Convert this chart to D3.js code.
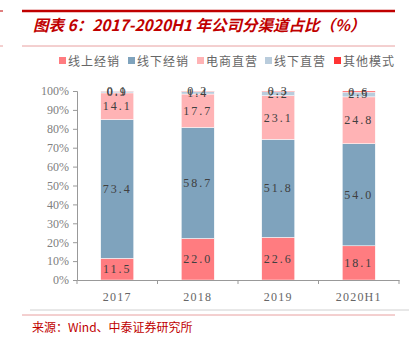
<!DOCTYPE html>
<html><head><meta charset="utf-8">
<script src="https://cdn.jsdelivr.net/npm/d3@7"></script>
<style>body{margin:0;background:#fff}svg{display:block}</style>
</head><body>
<script>
const categories = ["2017","2018","2019","2020H1"];
const seriesNames = ["线上经销","线下经销","电商直营","线下直营","其他模式"];
const s_online = [11.5,22.0,22.6,18.1];
const s_offline = [73.4,58.7,51.8,54.0];
const s_ecom = [14.1,17.7,23.1,24.8];
const s_store = [0.9,1.4,2.2,2.5];
const s_other = [0.1,0.2,0.3,0.6];
const yTicks = [0,10,20,30,40,50,60,70,80,90,100];
const colors = ["#FF7C80","#7FA3BD","#FFB3B5","#B9CCDC","#FF3333"];
const seriesVals = [s_online,s_offline,s_ecom,s_store,s_other];

const W=409,H=341;
const svg=d3.select("body").append("svg").attr("width",W).attr("height",H);
const red="#C00000";
svg.append("line").attr("x1",22).attr("x2",395).attr("y1",11).attr("y2",11).attr("stroke",red).attr("stroke-width",2.5);
svg.append("line").attr("x1",0).attr("x2",3).attr("y1",11).attr("y2",11).attr("stroke",red).attr("stroke-width",1);
svg.append("line").attr("x1",22).attr("x2",395).attr("y1",46).attr("y2",46).attr("stroke","#E8A0A0").attr("stroke-width",1);
svg.append("line").attr("x1",0).attr("x2",3).attr("y1",46).attr("y2",46).attr("stroke","#E8A0A0").attr("stroke-width",1);
svg.append("text").attr("x",33).attr("y",31).attr("fill",red)
  .attr("font-family","'Noto Sans CJK SC', sans-serif").attr("font-weight","bold").attr("font-style","italic").attr("font-size",15.5)
  .text("图表 6：2017-2020H1 年公司分渠道占比（%）");

const x=d3.scaleBand().domain(categories).range([77,399]).paddingInner(0.59).paddingOuter(0.295);
const y=d3.scaleLinear().domain([0,100]).range([280,91]);

const lg=svg.append("g");
const lx=[59,128,197,265,334];
seriesNames.forEach((n,i)=>{
  lg.append("rect").attr("x",lx[i]).attr("y",57).attr("width",7).attr("height",7).attr("fill",colors[i]);
  lg.append("text").attr("x",lx[i]+9).attr("y",65.5).attr("fill","#666").attr("font-size",12)
    .attr("font-family","'Noto Sans CJK SC', sans-serif").attr("letter-spacing","1px").text(n);
});

const data=categories.map((c,i)=>{const o={cat:c};seriesNames.forEach((n,j)=>o[n]=seriesVals[j][i]);return o;});
const stack=d3.stack().keys(seriesNames)(data);
const g=svg.append("g");
stack.forEach((layer,j)=>{
  g.selectAll(null).data(layer).enter().append("rect")
   .attr("x",d=>x(d.data.cat)).attr("width",x.bandwidth())
   .attr("y",d=>y(d[1])).attr("height",d=>y(d[0])-y(d[1]))
   .attr("fill",colors[j]).attr("stroke","#fff").attr("stroke-width",0.5);
});
stack.forEach((layer,j)=>{
  g.selectAll(null).data(layer).enter().append("text")
   .attr("x",d=>x(d.data.cat)+x.bandwidth()/2).attr("y",d=>(y(d[0])+y(d[1]))/2+4)
   .attr("text-anchor","middle").attr("fill","#404040").attr("font-size",12)
   .attr("font-family","'Liberation Serif', serif").attr("letter-spacing","2px")
   .text(d=>(d[1]-d[0]).toFixed(1));
});

const ya=svg.append("g").attr("transform","translate(77,0)")
  .call(d3.axisLeft(y).tickValues(yTicks).tickSize(4).tickFormat(d=>d+"%"));
ya.select(".domain").attr("stroke","#999");
ya.selectAll(".tick line").attr("stroke","#999");
ya.selectAll("text").attr("fill","#808080").attr("font-size",12).attr("font-family","'Liberation Serif', serif").attr("x",-8);
const xa=svg.append("g").attr("transform","translate(0,280)")
  .call(d3.axisBottom(x).tickSize(0).tickSizeOuter(0).tickPadding(12));
xa.select(".domain").attr("stroke","#999");
xa.selectAll("text").attr("fill","#666").attr("font-size",12).attr("font-family","'Liberation Serif', serif").attr("letter-spacing","1.2px");
const bounds=[77].concat(categories.map(c=>x(c)+x.bandwidth()+x.step()*x.paddingInner()/2));
bounds[bounds.length-1]=399;
svg.selectAll(null).data(bounds).enter().append("line")
  .attr("x1",d=>d).attr("x2",d=>d).attr("y1",280).attr("y2",284).attr("stroke","#999");

svg.append("line").attr("x1",30).attr("x2",409).attr("y1",310).attr("y2",310).attr("stroke","#D0D0D0");
svg.append("line").attr("x1",22).attr("x2",395).attr("y1",315).attr("y2",315).attr("stroke","#E8A0A0");
svg.append("text").attr("x",32).attr("y",332).attr("fill",red).attr("font-size",12)
  .attr("font-family","'Noto Sans CJK SC', sans-serif").text("来源：Wind、中泰证券研究所");
</script>
</body></html>
